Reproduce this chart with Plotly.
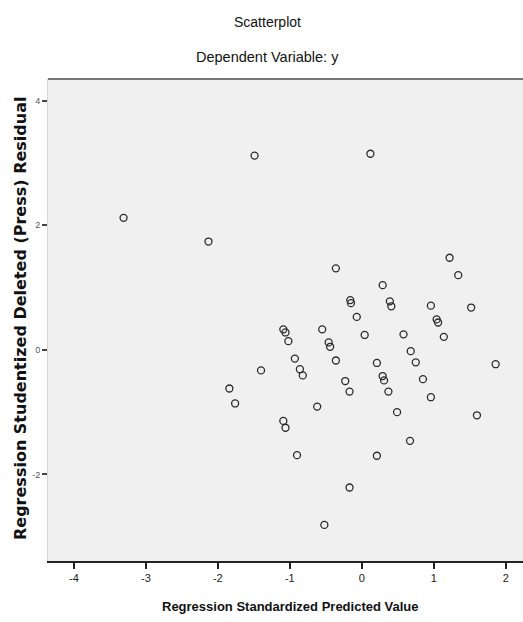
import plotly.graph_objects as go

# Data (standardized predicted value, studentized deleted residual)
pred = [-3.31, -2.13, -1.49, 0.12, -0.36, 1.22, 1.34, 0.29, -0.16, -0.15,
        0.39, 0.41, 0.96, 1.52, -0.07, 1.04, 1.06, 1.14, -1.09, -1.06,
        -1.02, -0.55, -0.46, -0.44, 0.04, 0.58, -0.93, -0.86, -0.82, -0.36,
        0.21, 0.68, 0.75, 1.86, -0.23, -0.17, 0.29, 0.31, 0.37, 0.85,
        0.96, -0.62, 0.49, 1.60, -1.09, -1.06, 0.67, -0.90, 0.21, -0.17,
        -0.52, -1.40, -1.84, -1.76]
resid = [2.12, 1.74, 3.12, 3.15, 1.31, 1.48, 1.20, 1.04, 0.80, 0.75,
         0.78, 0.70, 0.71, 0.68, 0.53, 0.49, 0.44, 0.21, 0.33, 0.28,
         0.14, 0.33, 0.12, 0.05, 0.24, 0.25, -0.14, -0.31, -0.41, -0.17,
         -0.21, -0.02, -0.20, -0.23, -0.50, -0.67, -0.42, -0.49, -0.67, -0.47,
         -0.76, -0.91, -1.00, -1.05, -1.14, -1.25, -1.46, -1.69, -1.70, -2.21,
         -2.81, -0.33, -0.62, -0.86]

x_ticks = [-4, -3, -2, -1, 0, 1, 2]
y_ticks = [-2, 0, 2, 4]

NARROW = "Liberation Sans Narrow, Arial Narrow, Liberation Sans, Arial, sans-serif"
WIDE = "DejaVu Sans, Verdana, sans-serif"

L, R, T, B = 48, 0, 79, 61
PW, PH = 523 - L - R, 622 - T - B

fig = go.Figure()
fig.add_trace(go.Scatter(
    x=pred, y=resid, mode="markers",
    marker=dict(symbol="circle-open", size=7, color="#2a2a2a",
                line=dict(width=1.3, color="#2a2a2a")),
    showlegend=False, hoverinfo="x+y",
))

fig.update_layout(
    width=523, height=622,
    margin=dict(l=L, r=R, t=T, b=B, autoexpand=False),
    paper_bgcolor="white",
    plot_bgcolor="#f0f0f0",
    font=dict(family=NARROW, color="#111"),
    xaxis=dict(
        range=[-4.36, 2.24], tickvals=x_ticks, ticktext=[str(v) for v in x_ticks],
        showgrid=False, zeroline=False, automargin=False,
        showline=True, linecolor="#222", linewidth=1.5,
        ticks="outside", ticklen=6, tickwidth=1.5, tickcolor="#222",
        tickfont=dict(family=NARROW, size=11, color="#222"),
    ),
    yaxis=dict(
        range=[-3.39, 4.35], tickvals=y_ticks, ticktext=[str(v) for v in y_ticks],
        showgrid=False, zeroline=False, automargin=False,
        showline=True, linecolor="#d8d8d8", linewidth=1,
        ticks="outside", ticklen=5, tickwidth=1.5, tickcolor="#444",
        tickfont=dict(family=NARROW, size=9, color="#555"),
    ),
    annotations=[
        dict(text="Scatterplot", xref="paper", yref="paper",
             x=(267 - L) / PW, y=1 + (T - 22) / PH, showarrow=False,
             xanchor="center", yanchor="middle",
             font=dict(family=NARROW, size=14, color="#111")),
        dict(text="Dependent Variable: y", xref="paper", yref="paper",
             x=(267 - L) / PW, y=1 + (T - 57) / PH, showarrow=False,
             xanchor="center", yanchor="middle",
             font=dict(family=NARROW, size=14.5, color="#111")),
        dict(text="<b>Regression Standardized Predicted Value</b>",
             xref="paper", yref="paper",
             x=(290 - L) / PW, y=-(606 - (T + PH)) / PH, showarrow=False,
             xanchor="center", yanchor="middle",
             font=dict(family=NARROW, size=13, color="#111")),
        dict(text="<b>Regression Studentized Deleted (Press) Residual</b>",
             xref="paper", yref="paper", textangle=-90,
             x=(20 - L) / PW, y=(T + PH - 319) / PH, showarrow=False,
             xanchor="center", yanchor="middle",
             font=dict(family=WIDE, size=16, color="#111")),
    ],
    shapes=[
        dict(type="line", xref="paper", yref="paper", x0=0, x1=1, y0=1, y1=1,
             line=dict(color="#777", width=2)),
    ],
)

fig.write_html("out.html",
               config={"displayModeBar": False},
               post_script="document.body.style.margin='0px';document.body.style.overflow='hidden';")
